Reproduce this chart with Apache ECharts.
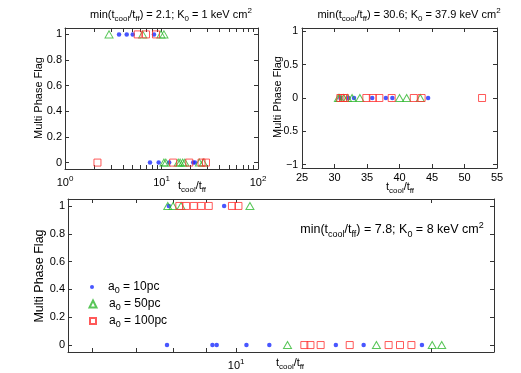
<!DOCTYPE html>
<html><head><meta charset="utf-8">
<script src="https://cdn.jsdelivr.net/npm/echarts@6/dist/echarts.min.js"></script>
<style>html,body{margin:0;padding:0;background:#fff}#c{width:521px;height:373px}</style>
</head><body><div id="c"></div>
<script>
// ---- data ----
// top-left panel (log x), y = multiphase flag
var tlBlueX = [3.63, 4.36, 5.03, 8.36, 7.6, 9.35, 12.0, 21.3, 22.2];
var tlBlueY = [1, 1, 1, 1, 0, 0, 0, 0, 0];
var tlGreenX = [2.86, 6.38, 9.88, 10.6, 10.6, 11.1, 14.9, 15.6, 16.6, 17.5, 24.7, 27.1];
var tlGreenY = [1, 1, 1, 1, 0, 0, 0, 0, 0, 0, 0, 0];
var tlRedX = [5.67, 6.91, 8.77, 2.17, 13.2, 19.4, 26.0, 28.9];
var tlRedY = [1, 1, 1, 0, 0, 0, 0, 0];
// top-right panel (linear x)
var trBlueX = [30.9, 32.15, 33.0, 35.8, 37.9, 38.9, 44.4];
var trBlueY = [0, 0, 0, 0, 0, 0, 0];
var trGreenX = [30.6, 30.8, 31.4, 32.0, 32.7, 33.9, 40.0, 41.1, 43.2];
var trGreenY = [0, 0, 0, 0, 0, 0, 0, 0, 0];
var trRedX = [30.9, 31.3, 31.6, 34.9, 35.9, 36.9, 38.8, 42.2, 43.4, 52.7];
var trRedY = [0, 0, 0, 0, 0, 0, 0, 0, 0, 0];
// bottom panel (log x)
var bBlueX = [7.87, 9.58, 7.82, 9.19, 9.33, 10.37, 11.25, 14.25, 15.73, 19.35];
var bBlueY = [1, 1, 0, 0, 0, 0, 0, 0, 0, 0];
var bGreenX = [7.84, 7.99, 8.22, 10.5, 12.0, 16.46, 20.07, 20.76];
var bGreenY = [1, 1, 1, 1, 0, 0, 0, 0];
var bRedX = [8.17, 8.37, 8.60, 8.83, 9.07, 9.85, 10.08, 12.74, 13.02, 13.5, 14.97, 17.19, 17.9, 18.64];
var bRedY = [1, 1, 1, 1, 1, 1, 1, 0, 0, 0, 0, 0, 0, 0];
var seriesNames = ['a0 = 10pc', 'a0 = 50pc', 'a0 = 100pc'];
var tlTicks = [1,2,3,4,5,6,7,8,9,10,20,30,40,50,60,70,80,90,100];
var tlLabels = [1, 10, 100];
var bTicks = [6,7,8,9,10,20];
var bLabels = [10];
var flagTicks = [0, 0.2, 0.4, 0.6, 0.8, 1];
var trYTicks = [-1, -0.5, 0, 0.5, 1];
var trXTicks = [25, 30, 35, 40, 45, 50, 55];

var FONT = 'Liberation Sans';
var AX = '#333';
function pairs(xs, ys){ return xs.map(function(x,i){ return [x, ys[i]]; }); }
var rich = {
  n:{fontFamily:FONT, fontSize:11, color:'#000', lineHeight:16},
  b:{fontFamily:FONT, fontSize:8, color:'#000', verticalAlign:'bottom', lineHeight:9},
  p:{fontFamily:FONT, fontSize:8, color:'#000', verticalAlign:'top', lineHeight:9}
};
var richL = {
  n:{fontFamily:FONT, fontSize:12.5, color:'#000', lineHeight:18},
  b:{fontFamily:FONT, fontSize:9, color:'#000', verticalAlign:'bottom', lineHeight:10},
  p:{fontFamily:FONT, fontSize:9, color:'#000', verticalAlign:'top', lineHeight:10}
};
function logLabel(v){ var e = Math.round(Math.log(v)/Math.LN10); return '{n|10}{p|' + e + '}'; }
function numLabel(v){ var s = String(Math.round(v*100)/100); return s.replace('-', '\u2212'); }
var tickStyle = {show:true, inside:true, length:4, lineStyle:{color:AX, width:1}};
var lineStyle = {show:true, onZero:false, lineStyle:{color:AX, width:1}};

function xPair(grid, type, min, max, ticks, labels, fmt, margin){
  var base = {gridIndex:grid, type:type, min:min, max:max, splitLine:{show:false}, axisLine:lineStyle};
  if (type === 'log') base.logBase = 10;
  var bottom = Object.assign({}, base, {position:'bottom',
    axisTick:Object.assign({}, tickStyle, {customValues:ticks}),
    axisLabel:{customValues:labels, formatter:fmt, margin:margin, rich:rich, fontFamily:FONT, fontSize:11, color:'#000'}});
  var top = Object.assign({}, base, {position:'top',
    axisTick:Object.assign({}, tickStyle, {customValues:ticks}), axisLabel:{show:false}});
  return [bottom, top];
}
function yPair(grid, min, max, ticks, margin, fs){
  var base = {gridIndex:grid, type:'value', min:min, max:max, splitLine:{show:false}, axisLine:lineStyle};
  var left = Object.assign({}, base, {position:'left',
    axisTick:Object.assign({}, tickStyle, {customValues:ticks}),
    axisLabel:{customValues:ticks, formatter:numLabel, margin:margin, fontFamily:FONT, fontSize:fs, color:'#000'}});
  var right = Object.assign({}, base, {position:'right',
    axisTick:Object.assign({}, tickStyle, {customValues:ticks}), axisLabel:{show:false}});
  return [left, right];
}
var xAxes = [].concat(
  xPair(0, 'log', 1, 100, tlTicks, tlLabels, logLabel, 6),
  xPair(1, 'value', 25, 55, trXTicks, trXTicks, numLabel, 4),
  xPair(2, 'log', 5.5, 25, bTicks, bLabels, logLabel, 6));
var yAxes = [].concat(
  yPair(0, -0.05, 1.05, flagTicks, 3, 11),
  yPair(1, -1.05, 1.05, trYTicks, 4, 10.5),
  yPair(2, -0.05, 1.05, flagTicks, 3, 11));

var BLUE = '#1a2cff', GREEN = '#2fb82f', RED = '#ff3030';
function mk(name, ax, data, kind){
  var s = {type:'scatter', name:name, xAxisIndex:ax, yAxisIndex:ax, data:data, animation:false, silent:true};
  if (kind === 0){ s.symbol = 'circle'; s.symbolSize = 4.5; s.itemStyle = {color:BLUE}; }
  if (kind === 1){ s.symbol = 'triangle'; s.symbolSize = [8,7]; s.itemStyle = {color:'rgba(0,0,0,0)', borderColor:GREEN, borderWidth:1}; }
  if (kind === 2){ s.symbol = 'rect'; s.symbolSize = 7; s.itemStyle = {color:'rgba(0,0,0,0)', borderColor:RED, borderWidth:1}; }
  return s;
}
var series = [
  mk(seriesNames[0], 0, pairs(tlBlueX, tlBlueY), 0),
  mk(seriesNames[1], 0, pairs(tlGreenX, tlGreenY), 1),
  mk(seriesNames[2], 0, pairs(tlRedX, tlRedY), 2),
  mk(seriesNames[0], 2, pairs(trBlueX, trBlueY), 0),
  mk(seriesNames[1], 2, pairs(trGreenX, trGreenY), 1),
  mk(seriesNames[2], 2, pairs(trRedX, trRedY), 2),
  mk(seriesNames[0], 4, pairs(bBlueX, bBlueY), 0),
  mk(seriesNames[1], 4, pairs(bGreenX, bGreenY), 1),
  mk(seriesNames[2], 4, pairs(bRedX, bRedY), 2)
];
function legendFmt(name){ var m = name.split(' = '); return '{n|a}{b|0}{n| = ' + m[1] + '}'; }
var lrich = {
  n:{fontFamily:FONT, fontSize:12, color:'#000', lineHeight:17},
  b:{fontFamily:FONT, fontSize:9, color:'#000', verticalAlign:'bottom', lineHeight:10}
};
function legend(name, size, cx, top){
  return {data:[name], left:cx - size/2, top:top, padding:0, orient:'vertical', itemWidth:size, itemHeight:size,
    selectedMode:false, formatter:legendFmt, textStyle:{rich:lrich, padding:[0,0,0,11 - size/2]}};
}
function txt(x, y, str, r){
  return {type:'text', x:x, y:y, silent:true,
    style:{text:str, rich:r||rich, align:'center', verticalAlign:'middle', fontFamily:FONT, fontSize:11, fill:'#000'}};
}
function ytxt(x, y, size){
  return {type:'text', x:x, y:y, rotation:Math.PI/2, silent:true,
    style:{text:'Multi Phase Flag', align:'center', verticalAlign:'middle', font:size + 'px "Liberation Sans"', fill:'#000'}};
}
var title = function(a, b){ return '{n|min(t}{b|cool}{n|/t}{b|ff}{n|) = ' + a + '; K}{b|0}{n| = ' + b + ' keV cm}{p|2}'; };
var tcool = '{n|t}{b|cool}{n|/t}{b|ff}';

var chart = echarts.init(document.getElementById('c'), null, {renderer:'canvas'});
chart.setOption({
  backgroundColor:'#fff',
  animation:false,
  grid:[
    {left:65, top:28, width:193, height:141},
    {left:302, top:28, width:195, height:140},
    {left:68, top:199, width:426, height:153}
  ],
  xAxis:xAxes,
  yAxis:yAxes,
  series:series,
  legend:[
    legend(seriesNames[0], 4, 92, 281),
    legend(seriesNames[1], 7, 92, 298),
    legend(seriesNames[2], 6, 92, 315)
  ],
  graphic:[
    txt(171, 15, title('2.1', '1')),
    txt(409, 15, title('30.6', '37.9')),
    txt(392, 230, title('7.8', '8'), richL),
    txt(192, 186, tcool),
    txt(400, 187, tcool),
    txt(290, 363, tcool),
    ytxt(39, 98, 11),
    ytxt(278, 97, 11),
    ytxt(40, 276, 12.5)
  ]
});
</script></body></html>
